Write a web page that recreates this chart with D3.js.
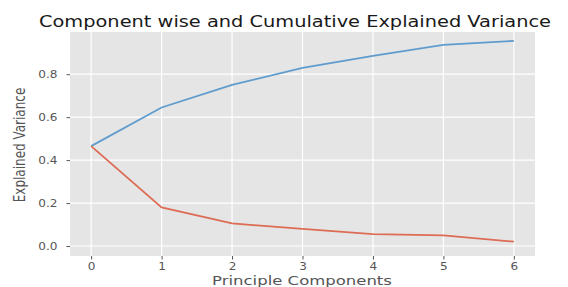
<!DOCTYPE html>
<html>
<head>
<meta charset="utf-8">
<script src="https://cdn.jsdelivr.net/npm/d3@7"></script>
<style>
  body { margin: 0; background: #fff; }
  svg text { font-family: "DejaVu Sans", sans-serif; }
</style>
</head>
<body>
<svg id="chart" width="568" height="287"></svg>
<script>
// principal component index
const components = [0, 1, 2, 3, 4, 5, 6];
// explained variance per component
const componentVariance = [0.465, 0.18, 0.105, 0.08, 0.055, 0.05, 0.02];
// running total
const cumulativeVariance = [0.465, 0.645, 0.75, 0.83, 0.885, 0.937, 0.955];
const yTicks = [0.0, 0.2, 0.4, 0.6, 0.8];

function draw() {
    const margin = { top: 32, right: 33, bottom: 31, left: 70 };
    const width = 568, height = 287;
    const stretch = 1.15; // the picture is wider than tall
    const svg = d3.select("#chart");

    const x = d3.scaleLinear()
        .domain([-0.3, 6.3])
        .range([margin.left, width - margin.right]);
    const y = d3.scaleLinear()
        .domain([-0.0465, 0.9965])
        .range([height - margin.bottom, margin.top]);

    // grey panel
    svg.append("rect")
        .attr("x", margin.left)
        .attr("y", margin.top)
        .attr("width", width - margin.left - margin.right)
        .attr("height", height - margin.top - margin.bottom)
        .attr("fill", "#e5e5e5");

    const g = svg.append("g");

    // grid lines
    g.selectAll(".vgrid").data(components).enter().append("line")
        .attr("x1", d => x(d)).attr("x2", d => x(d))
        .attr("y1", margin.top).attr("y2", height - margin.bottom)
        .attr("stroke", "#fff").attr("stroke-width", 1.2);
    g.selectAll(".hgrid").data(yTicks).enter().append("line")
        .attr("y1", d => y(d)).attr("y2", d => y(d))
        .attr("x1", margin.left).attr("x2", width - margin.right)
        .attr("stroke", "#fff").attr("stroke-width", 1.2);

    // axes
    const xAxis = svg.append("g")
        .attr("transform", `translate(0,${height - margin.bottom})`)
        .call(d3.axisBottom(x).tickValues(components).tickSize(3.5).tickPadding(3).tickFormat(d3.format("d")));
    const yAxis = svg.append("g")
        .attr("transform", `translate(${margin.left},0)`)
        .call(d3.axisLeft(y).tickValues(yTicks).tickSize(3.5).tickPadding(9).tickFormat(d3.format(".1f")));
    [xAxis, yAxis].forEach(a => {
        a.select(".domain").remove();
        a.selectAll(".tick line").attr("stroke", "#555");
        a.selectAll(".tick text").attr("fill", "#555").style("font-size", "10.5px");
    });
    yAxis.selectAll(".tick text")
        .attr("x", null)
        .attr("transform", `translate(-12.5,0) scale(${stretch},1)`);
    xAxis.selectAll(".tick text")
        .attr("transform", `scale(${stretch},1)`);

    const line = d3.line().x((d, i) => x(components[i])).y(d => y(d));

    g.append("path").datum(cumulativeVariance)
        .attr("d", line).attr("fill", "none")
        .attr("stroke", "#5f9ccd").attr("stroke-width", 1.8);
    g.append("path").datum(componentVariance)
        .attr("d", line).attr("fill", "none")
        .attr("stroke", "#dd6c55").attr("stroke-width", 1.8);

    // titles
    svg.append("text")
        .attr("transform", `translate(295,27) scale(1.25,1)`)
        .attr("text-anchor", "middle")
        .attr("fill", "#1a1a1a")
        .style("font-size", "15.5px")
        .text("Component wise and Cumulative Explained Variance");
    svg.append("text")
        .attr("transform", `translate(302,285) scale(1.32,1)`)
        .attr("text-anchor", "middle")
        .attr("fill", "#555")
        .style("font-size", "12.5px")
        .text("Principle Components");
    svg.append("text")
        .attr("transform", `translate(25,145) scale(1.25,1) rotate(-90)`)
        .attr("text-anchor", "middle")
        .attr("fill", "#555")
        .style("font-size", "12px")
        .text("Explained Variance");
}

draw();
</script>
</body>
</html>
